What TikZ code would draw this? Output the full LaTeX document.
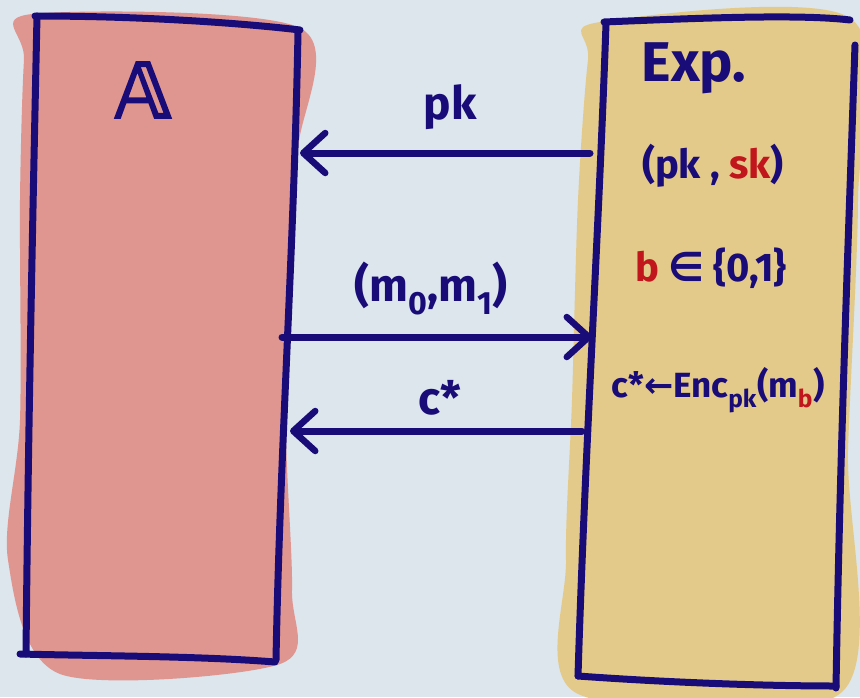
\documentclass[tikz,border=0pt]{standalone}
\usepackage{fontspec}
\setmainfont{Fira Sans}
\newfontfamily\bbfont[FakeBold=3]{DejaVu Sans}
\newfontfamily\symfnt{DejaVu Sans}
\usetikzlibrary{arrows.meta}
\definecolor{bgc}{HTML}{DCE6EC}
\definecolor{salmon}{HTML}{DF9690}
\definecolor{sand}{HTML}{E4CA8A}
\definecolor{ink}{HTML}{1A0C78}
\definecolor{redk}{HTML}{C0161C}
\tikzset{
  inkline/.style={draw=ink,line width=7pt,line cap=round,line join=round},
  msgarrow/.style={inkline,-{Straight Barb[length=22pt,width=40pt,line width=6.5pt,round]}},
  lbl/.style={text=ink,font=\fontsize{46}{52}\selectfont\bfseries,inner sep=0pt},
  keylbl/.style={text=ink,font=\fontsize{40}{46}\selectfont\bfseries,inner sep=0pt},
  smalllbl/.style={text=ink,font=\fontsize{35}{40}\selectfont\bfseries,inner sep=0pt}
}
\begin{document}
\begin{tikzpicture}[x=1pt,y=-1pt]
\fill[bgc] (0,0) rectangle (860,697);
\useasboundingbox (0,0) rectangle (860,697);
% adversary box
\fill[salmon] plot[smooth cycle,tension=0.5] coordinates {(32,14) (300,28) (298,150) (292,280) (286,430) (292,590) (280,664) (60,674) (8,560) (20,420) (20,200) (24,60)};
\draw[inkline] (35,16) .. controls (150,16) and (250,24) .. (300,30);
\draw[inkline] (298,32) .. controls (294,250) and (280,450) .. (276,660);
\draw[inkline] (37,16) .. controls (32,250) and (28,450) .. (26,654);
\draw[inkline] (20,654) .. controls (100,656) and (200,656) .. (275,662);
% experiment box
\fill[sand] plot[smooth cycle,tension=0.5] coordinates {(600,22) (850,18) (858,200) (848,450) (842,692) (578,694) (566,560) (572,400) (578,200) (588,60)};
\draw[inkline] (604,22) .. controls (700,18) and (800,14) .. (850,20);
\draw[inkline] (855,45) .. controls (848,250) and (840,450) .. (836,688);
\draw[inkline] (606,24) .. controls (598,250) and (585,450) .. (578,676);
\draw[inkline] (578,676) .. controls (660,682) and (760,686) .. (836,686);
% texts
\node[text=ink,inner sep=0pt,font=\fontsize{76}{80}\selectfont\bbfont] (adv) at (143,90) {𝔸};
\node[lbl,font=\fontsize{56}{60}\selectfont\bfseries] (exp) at (694,68) {Exp.};
\node[keylbl] (keys) at (713,166) {(pk , \textcolor{redk}{sk})};
\node[keylbl] (bit) at (711,268) {\textcolor{redk}{b} {\symfnt\bfseries ∈} \{0,1\}};
\node[smalllbl] (enc) at (718,390) {c*{\symfnt\bfseries ←}Enc\textsubscript{pk}(m\textsubscript{\color{redk}b})};
% messages
\coordinate (pkS) at (590,153);
\coordinate (pkE) at (300,153);
\coordinate (mS) at (282,337);
\coordinate (mE) at (592,337);
\coordinate (cS) at (582,431);
\coordinate (cE) at (290,431);
\draw[msgarrow] (pkS) -- node[lbl,above=20pt,xshift=5pt] (pklbl) {pk} (pkE);
\draw[msgarrow] (mS) -- node[lbl,above=18pt,xshift=-6pt] (mlbl) {(m\textsubscript{0},m\textsubscript{1})} (mE);
\draw[msgarrow] (cS) -- node[lbl,above=12pt,xshift=4pt] (clbl) {c*} (cE);
\end{tikzpicture}
\end{document}
